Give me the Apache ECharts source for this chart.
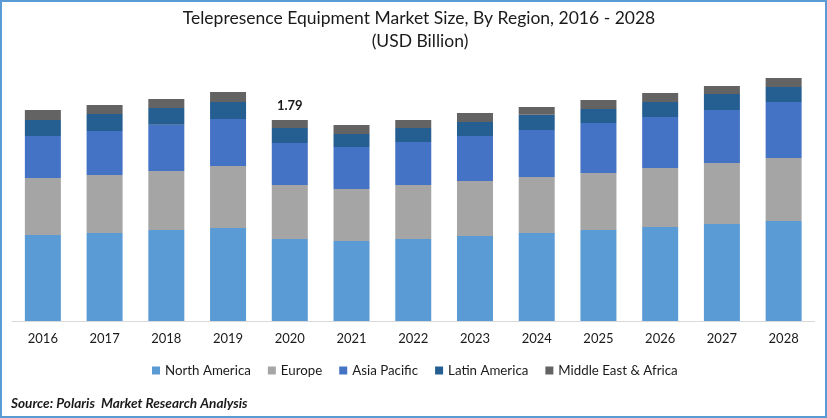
<!doctype html>
<html lang="en">

<head>
	<meta charset="UTF-8">
	<title>Telepresence Equipment Market Size</title>
	<style>
		html, body { margin: 0; padding: 0; background: #fff; }
		#chart { width: 827px; height: 418px; }
	</style>
</head>

<body>
	<div id="chart"></div>

	<script src="https://cdn.jsdelivr.net/npm/echarts@6/dist/echarts.min.js"></script>
	<script>
		var years = ['2016', '2017', '2018', '2019', '2020', '2021', '2022', '2023', '2024', '2025', '2026', '2027', '2028']
		var northAmerica = [0.766, 0.784, 0.811, 0.828, 0.730, 0.713, 0.730, 0.757, 0.784, 0.811, 0.837, 0.864, 0.891]
		var europe = [0.508, 0.517, 0.526, 0.552, 0.481, 0.463, 0.481, 0.490, 0.499, 0.508, 0.526, 0.543, 0.561]
		var asiaPacific = [0.374, 0.392, 0.410, 0.419, 0.374, 0.374, 0.383, 0.401, 0.419, 0.445, 0.454, 0.472, 0.499]
		var latinAmerica = [0.143, 0.151, 0.151, 0.151, 0.134, 0.116, 0.125, 0.125, 0.134, 0.125, 0.134, 0.143, 0.134]
		var middleEast = [0.089, 0.080, 0.080, 0.089, 0.071, 0.080, 0.071, 0.080, 0.071, 0.080, 0.080, 0.071, 0.080]
		var labelYear = '2020'
		var labelText = '1.79'

		var font = 'Lato'
		var textColor = '#1a1a1a'

		function barSeries(name, values, color) {
			return {
				name: name,
				type: 'bar',
				stack: 'total',
				barWidth: 36,
				itemStyle: { color: color },
				data: values
			}
		}

		// only the 2020 bar carries a label
		var topData = middleEast.map(function (v, i) {
			if (years[i] !== labelYear) return v
			return {
				value: v,
				label: {
					show: true,
					position: 'top',
					distance: 8,
					formatter: labelText,
					fontFamily: font,
					fontSize: 13,
					fontWeight: 'bold',
					color: textColor
				}
			}
		})

		var chart = echarts.init(document.getElementById('chart'), null, { renderer: 'canvas' })

		chart.setOption({
			animation: false,
			title: [
				{
					text: 'Telepresence Equipment Market Size, By Region, 2016 - 2028',
					left: 414,
					top: 4,
					textAlign: 'center',
					textStyle: { fontFamily: font, fontSize: 17.5, fontWeight: 'normal', color: textColor }
				},
				{
					text: '(USD Billion)',
					left: 415,
					top: 27,
					textAlign: 'center',
					textStyle: { fontFamily: font, fontSize: 17.5, fontWeight: 'normal', color: textColor }
				},
				{
					text: 'Source: Polaris  Market Research Analysis',
					left: 6,
					top: 392,
					textStyle: { fontFamily: font, fontSize: 13.6, fontWeight: 'bold', fontStyle: 'italic', color: textColor }
				}
			],
			legend: {
				left: 147,
				top: 359,
				itemWidth: 8,
				itemHeight: 8,
				itemGap: 17,
				icon: 'rect',
				textStyle: { fontFamily: font, fontSize: 13.3, color: textColor },
				data: ['North America', 'Europe', 'Asia Pacific', 'Latin America', 'Middle East & Africa']
			},
			grid: { left: 12, top: 74, width: 802.5, height: 247 },
			xAxis: {
				type: 'category',
				data: years,
				axisTick: { show: false },
				axisLine: { lineStyle: { color: '#d9d9d9', width: 1 } },
				axisLabel: { fontFamily: font, fontSize: 13, color: textColor, margin: 11 }
			},
			yAxis: {
				type: 'value',
				min: 0,
				max: 2.2,
				show: false,
				splitLine: { show: false }
			},
			series: [
				barSeries('North America', northAmerica, '#5b9bd5'),
				barSeries('Europe', europe, '#a5a5a5'),
				barSeries('Asia Pacific', asiaPacific, '#4472c4'),
				barSeries('Latin America', latinAmerica, '#255e91'),
				barSeries('Middle East & Africa', topData, '#636363')
			],
			graphic: [
				{
					type: 'rect',
					silent: true,
					shape: { x: 1, y: 1, width: 825, height: 416 },
					style: { fill: 'none', stroke: '#5b9bd5', lineWidth: 2 }
				}
			]
		})
	</script>
</body>

</html>
